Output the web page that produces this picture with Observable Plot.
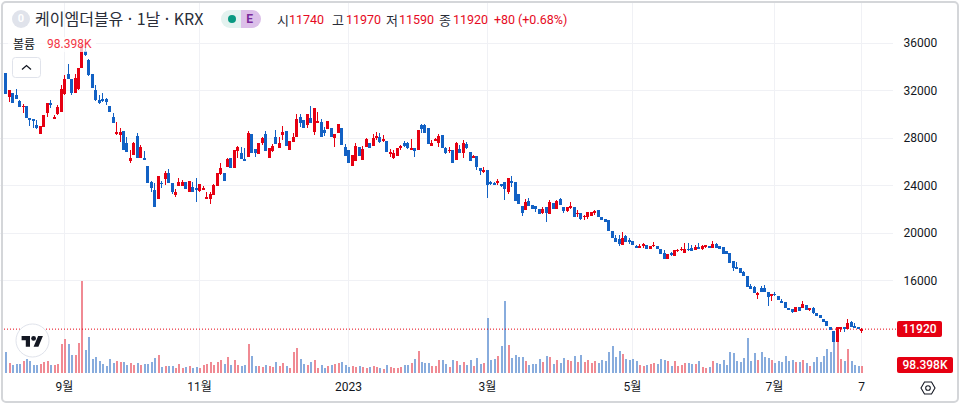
<!DOCTYPE html>
<html lang="ko">
<head>
<meta charset="utf-8">
<script src="https://cdn.jsdelivr.net/npm/d3@7"></script>
<script src="https://cdn.jsdelivr.net/npm/@observablehq/plot@0.6"></script>
<style>
html,body{margin:0;padding:0;background:#fff;overflow:hidden;width:960px;height:404px}
body{position:relative;font-family:Roboto,"Noto Sans CJK KR",sans-serif;color:#131722}
#chart{position:absolute;left:0;top:0}
.box{position:absolute;left:1px;top:1px;width:954px;height:398px;border:2px solid #d4d6d9;border-radius:5px;pointer-events:none}
.t{position:absolute;white-space:nowrap;line-height:1}
.r{color:#e60a23}
.tag{position:absolute;background:#e60012;color:#fff;text-align:center;border-radius:2px;font-size:12px;font-weight:500;line-height:16px;height:16px}
</style>
</head>
<body>
<div id="chart"></div>
<div class="box"></div>
<script>
const opens=[33470,31470,31760,31620,31140,30610,30690,29620,29590,29090,
28330,28940,30120,30920,29570,29990,30210,31680,33390,32940,
31810,32120,33890,35300,34570,33390,32040,31200,31310,31250,
30690,29790,28330,28250,28580,27570,26050,26560,28190,26330,
26330,25630,24310,23610,22850,24220,24540,25070,24170,23190,
23970,23970,24260,23470,23890,23750,23550,23610,22910,22850,
23190,23970,24960,25020,25570,26330,25490,26920,26700,26200,
26420,28330,27040,26640,27540,28330,26330,26920,28050,27170,
28250,28580,26980,27680,28100,29790,29510,29090,29650,28520,
29280,29370,28670,28750,28860,27970,28390,28860,27260,26980,
25630,26080,27260,26140,27210,27600,27320,28020,28100,27760,
27760,26700,26280,26500,27210,27540,27540,27060,27170,26980,
29090,29090,28860,27340,27760,27540,28250,27170,26900,26980,
26140,27040,26750,27460,26790,26330,26470,25440,25150,25290,
24260,24170,24200,24110,24260,23470,24310,24280,23270,22290,
21920,22710,22340,22290,21980,21700,22150,21590,22490,21980,
22830,22200,21840,22060,22150,21560,21640,21310,21360,21420,
21730,21920,21360,21140,21050,20180,19590,19450,18970,19730,
19330,19280,18890,18750,18910,18970,18640,18890,18890,18610,
18270,17790,18270,18070,18470,18550,18320,18630,18750,18550,
18750,18610,18830,18890,18750,19030,18890,18780,18490,18270,
17650,17060,17010,16720,16360,15520,15410,14820,15320,15320,
15040,14670,14820,14670,14250,14190,13690,13550,13350,13720,
13640,13890,13490,13640,13270,13070,12760,12570,12090,11720,
10820,11870,12040,11870,12510,12170,12090,11740];
const closes=[31700,32040,30920,31280,30630,30690,29700,29510,29450,28810,
29000,29930,30920,30770,29790,30630,32100,32940,32940,31760,
33050,33890,35830,34990,33300,32230,31200,30920,31140,31030,
30210,29280,28520,28520,26980,26810,26330,27570,26330,27260,
26140,24220,23750,22200,24790,24090,25070,24170,23410,23410,
24310,24260,23670,24370,23470,23610,24090,23800,22990,23250,
24030,25070,25440,24390,26220,25490,26980,27210,26200,26080,
28410,26700,26700,27540,27970,26920,27120,27340,27490,27540,
28520,27340,27740,28100,29570,29280,28810,29990,29280,30500,
29450,28100,28390,29450,28100,28300,29170,27400,26470,25910,
26560,27320,26500,27040,27880,27170,27970,28100,27680,27880,
26840,26750,26700,27170,27260,27340,27170,27120,26920,28670,
28730,28440,27490,27540,27820,28160,27170,26700,26980,25910,
27540,26700,27540,27120,26080,26420,25570,25210,25290,24030,
24110,24060,24390,23970,23720,24590,24220,22710,22430,21640,
22620,22290,22010,21980,21590,21980,21700,22570,21980,22680,
22340,21860,22150,22290,21360,21700,21160,21420,21730,21730,
21780,21360,21080,20940,20150,19590,19250,19030,19590,19250,
19250,18970,18750,18910,18970,18640,18890,18970,18640,18210,
17790,18190,18190,18550,18550,18630,18630,18550,18490,18830,
18690,18890,18890,18750,19030,18750,18640,18190,18190,17480,
17010,17010,16640,16380,15460,15240,14900,14900,15040,15040,
14560,14820,14760,14340,14140,13690,13490,13350,13720,13440,
14000,13490,13640,13210,13010,12790,12510,12140,11810,10820,
12040,12090,11870,12370,12090,11950,11870,11920];
const highs=[33500,32040,31760,32100,31200,30860,30690,29620,29600,29510,
29000,29930,30920,31200,29930,30770,32460,33300,34200,32940,
33390,33890,36050,35660,34630,33390,32460,31620,31760,31360,
30690,30120,29370,28840,28580,28080,26980,27680,28410,27400,
26900,25630,24390,24200,24790,24370,25210,25380,24170,23690,
24590,24450,24260,24370,24260,24590,24090,23970,23410,23470,
24110,25070,25860,25020,26330,26330,26980,27320,27260,27170,
28600,28330,27040,27540,28100,28610,27120,27490,28670,28100,
29000,28580,27740,28410,29990,30020,29510,29990,30690,30500,
30210,29620,28940,29450,28860,28300,29170,28860,27490,26980,
26560,27540,27260,27320,27970,27600,28330,28470,28390,28250,
27760,27040,26980,27170,27400,27760,27680,27880,27170,28670,
29150,29170,28860,27820,28020,28300,28250,27260,27210,26980,
27680,27400,27820,27680,26790,26560,26470,25440,25570,25290,
24370,24310,24510,24150,24260,24590,24790,24280,23270,22290,
22830,22910,22340,22290,21980,22150,22150,22770,22490,22770,
22910,22200,22200,22620,22150,21920,21640,21500,21780,21730,
21920,21920,21360,21140,21050,20180,19820,19820,20040,19820,
19540,19280,18930,19060,19170,18970,18890,19200,18890,18610,
18550,18190,18410,18550,18630,18780,19120,19120,18970,18970,
19120,18930,18970,18890,19310,19170,18890,18780,18490,18270,
17650,17560,17010,16810,16360,15680,15520,15040,15520,15600,
15040,14820,15040,14670,14420,14190,13690,13550,13720,13720,
14250,13890,13640,13720,13270,13070,12760,12570,12090,11720,
12040,12090,12040,12710,12590,12400,12090,11970];
const lows=[31680,31050,30920,31280,30630,30120,29700,29000,28840,28750,
28330,28940,29760,30520,29570,29930,30180,31620,32940,31620,
31790,32040,33890,34900,33250,32230,31110,30860,31050,30770,
30210,29280,28250,27650,26980,26810,25880,26560,26330,26300,
26140,24220,23470,22200,22850,23800,24030,24170,23270,23040,
23970,23970,23670,23470,23470,22620,23440,23580,22910,22400,
23190,23970,24900,24390,25530,25490,25490,26280,26200,26080,
26420,26700,26420,26640,27400,26920,26330,26790,27490,27120,
27820,27340,26980,27630,28100,28950,28810,28840,29280,28250,
29230,28100,28160,28750,28100,27260,28390,27400,26470,25910,
25630,26080,26500,26140,27210,27170,27320,27820,27600,27680,
26840,26420,26200,26500,26980,27210,27060,27060,26420,26980,
28390,28440,27490,27340,27760,27260,27170,26620,26700,25910,
26140,26700,26330,27040,26080,26280,25290,24850,25070,22910,
24030,24030,24030,23900,22770,23270,23890,22710,22430,21420,
21920,22290,22010,21780,21590,21590,20940,21590,21980,21980,
22340,21700,21780,21980,21360,21360,21080,21080,21160,21420,
21500,21360,21080,20940,20150,19590,19250,18910,18970,19200,
19060,18970,18700,18750,18750,18640,18640,18780,18640,18210,
17790,17790,18070,18070,18360,18470,18320,18470,18490,18550,
18630,18550,18760,18750,18750,18750,18640,18190,18190,17480,
16810,17010,16640,16380,15460,15240,14900,14420,15040,15040,
13830,14250,14670,14340,14060,13690,13490,13240,13350,13440,
13640,13490,13410,13130,13010,12790,12510,12140,11810,10820,
10820,11660,11660,11870,12090,11950,11870,11590];
const volumesK=[286,138,107,121,121,161,188,161,107,107,
121,147,161,107,107,121,389,456,389,241,
241,402,1233,308,482,188,214,161,121,94,
188,134,161,147,147,107,134,107,134,107,
121,121,147,201,241,80,94,94,94,67,
121,67,80,94,67,80,67,107,121,147,
107,147,174,121,214,107,174,107,94,107,
389,228,94,94,80,107,94,80,147,94,
134,94,67,281,335,188,121,107,147,174,
67,107,67,94,107,121,134,147,107,80,
94,80,94,80,67,80,94,80,67,54,
107,80,67,67,80,107,107,134,188,295,
147,134,134,94,94,174,174,121,80,174,
161,107,147,107,174,94,201,121,134,737,
174,188,228,362,965,375,201,241,214,214,
161,107,121,121,188,147,228,214,121,174,
134,201,174,161,228,147,241,147,174,134,
161,134,174,161,281,362,214,295,255,188,
174,188,161,107,94,112,125,134,121,188,
174,161,94,161,94,107,134,130,121,121,
161,80,67,80,161,134,121,174,107,281,
268,161,147,197,469,161,268,174,281,214,
201,174,134,161,147,228,161,174,147,147,
174,134,94,147,214,147,228,322,281,563,
500,188,161,322,161,107,94,98.398];
const priceTicks=[16000,20000,24000,28000,32000,36000];
const dateTickIndex=[17,56,99,139,181,222,247];
const dateTickLabels=["9월","11월","2023","3월","5월","7월","7"];
const lastClose=11920;

const n=opens.length;
for(const a of [closes,highs,lows,volumesK]) if(a.length!==n) throw new Error("length mismatch "+[n,closes.length,highs.length,lows.length,volumesK.length].join(","));
const idx=d3.range(n);
const up=i=>closes[i]>=opens[i];
const UP="#e60012",DOWN="#1261c4",UPV="#f08a93",DOWNV="#88acdd",GRID="#f0f1f5";

// the volume pane shares the chart's vertical axis: volume is laid on the pane baseline
const paneBase=8180, pricePerK=6.29;
// a candle body never renders thinner than about 2px, as in the source chart
const minBody=150;
const bodyTop=i=>{const m=(opens[i]+closes[i])/2;return Math.max(Math.max(opens[i],closes[i]),m+minBody/2);};
const bodyBot=i=>{const m=(opens[i]+closes[i])/2;return Math.min(Math.min(opens[i],closes[i]),m-minBody/2);};

function decorations(){
  const ns="http://www.w3.org/2000/svg";
  const g=document.createElementNS(ns,"g");
  g.innerHTML=`
  <rect x="12.5" y="57.5" width="28" height="20" rx="3" fill="#fff" stroke="#e0e3eb"/>
  <path d="M22 69.5l4.5-4 4.5 4" fill="none" stroke="#131722" stroke-width="1.3"/>
  <circle cx="32.5" cy="340.5" r="16.5" fill="#fff" stroke="#e0e3eb"/>
  <g transform="translate(21.6,333.6) scale(.6)" fill="#131722"><path d="M14 22H7V11H0V4h14v18zM28 22h-8l7.5-18h8L28 22z"/><circle cx="20" cy="8" r="4"/></g>
  <g transform="translate(928,388)" fill="none" stroke="#131722" stroke-width="1.1"><path d="M-7 0L-3.5-6H3.5L7 0L3.5 6H-3.5Z"/><circle r="2.3"/></g>`;
  return g;
}

const chart=Plot.plot({
  width:960,height:404,marginLeft:0,marginRight:67,marginTop:0,marginBottom:31,
  style:{fontFamily:'Roboto,"Noto Sans CJK KR",sans-serif',fontSize:"12px",color:"#131722",background:"transparent",overflow:"visible"},
  x:{type:"linear",domain:[-1.5,256.2],round:true,axis:null},
  y:{domain:[paneBase,39625],axis:null},
  marks:[
    Plot.ruleY(priceTicks,{stroke:GRID,strokeOpacity:1,shapeRendering:"crispEdges"}),
    Plot.ruleX(dateTickIndex,{stroke:GRID,strokeOpacity:1,y1:paneBase,y2:39400,shapeRendering:"crispEdges"}),
    Plot.ruleX(idx,{x:i=>i,y1:paneBase,y2:i=>paneBase+volumesK[i]*pricePerK,stroke:i=>up(i)?UPV:DOWNV,strokeWidth:2,dx:.5,shapeRendering:"crispEdges"}),
    Plot.ruleY([lastClose],{x1:-1.3,x2:257.3,stroke:UP,strokeDasharray:"1,2",strokeWidth:1}),
    Plot.ruleX(idx,{x:i=>i,y1:i=>lows[i],y2:i=>highs[i],stroke:i=>up(i)?UP:DOWN,strokeWidth:1,shapeRendering:"crispEdges"}),
    Plot.ruleX(idx,{x:i=>i,y1:bodyBot,y2:bodyTop,stroke:i=>up(i)?UP:DOWN,strokeWidth:3,shapeRendering:"crispEdges"}),
    Plot.axisY(priceTicks,{anchor:"right",tickSize:0,tickPadding:10,label:null,tickFormat:d=>String(d)}),
    Plot.axisX(dateTickIndex,{anchor:"bottom",tickSize:0,tickPadding:9,label:null,tickFormat:i=>dateTickLabels[dateTickIndex.indexOf(i)]}),
    decorations
  ]
});
document.getElementById("chart").appendChild(chart);

function put(txt,x,y,size,cls,extra){
  const s=document.createElement("span");
  s.className="t "+(cls||"");
  s.textContent=txt;
  s.style.left=x+"px";s.style.top=y+"px";s.style.fontSize=size+"px";
  if(extra) s.setAttribute("style",s.getAttribute("style")+";"+extra);
  document.body.appendChild(s);
  return s;
}
// header
put("",12,10,12,"","width:18px;height:18px;border-radius:50%;background:#e0e3eb");
put("0",12,13,11,"","width:18px;text-align:center;color:#fff;font-weight:700");
put("케이엠더블유 · 1날 · KRX",35,10,16,"","color:#2a2e39;font-family:'Noto Sans CJK KR',sans-serif");
put("",221,10,12,"","width:20px;height:18px;border-radius:9px 0 0 9px;background:#e3f2ef");
put("",241,10,12,"","width:20px;height:18px;border-radius:0 9px 9px 0;background:#dcbfe9");
put("",228,15,12,"","width:8px;height:8px;border-radius:50%;background:#089981");
put("E",241,13,12,"","width:17px;text-align:center;font-weight:700;color:#7b2a9b");
const legend=[["시",277,0],["11740",289,1],["고",332,0],["11970",346,1],["저",386,0],["11590",399,1],["종",439,0],["11920",453,1],["+80",494,1],["(+0.68%)",518,1]];
for(const [t,x,red] of legend) put(t,x,red?14:13,red?12.5:13,red?"r":"",red?"":"font-family:'Noto Sans CJK KR',sans-serif;color:#2a2e39");
// volume legend (translucent backdrop over the candles)
put("",8,37,12,"","width:88px;height:15px;background:rgba(255,255,255,.72)");
put("볼륨",13,38,12,"","font-family:'Noto Sans CJK KR',sans-serif");
put("98.398K",47,38,12,"","color:#f23645");
// last value tags
const tag=(t,x,y,w)=>{const d=document.createElement("div");d.className="tag";d.textContent=t;d.style.left=x+"px";d.style.top=y+"px";d.style.width=w+"px";document.body.appendChild(d);};
tag("11920",897,321,45);
tag("98.398K",897,357,56);
</script>
</body>
</html>
